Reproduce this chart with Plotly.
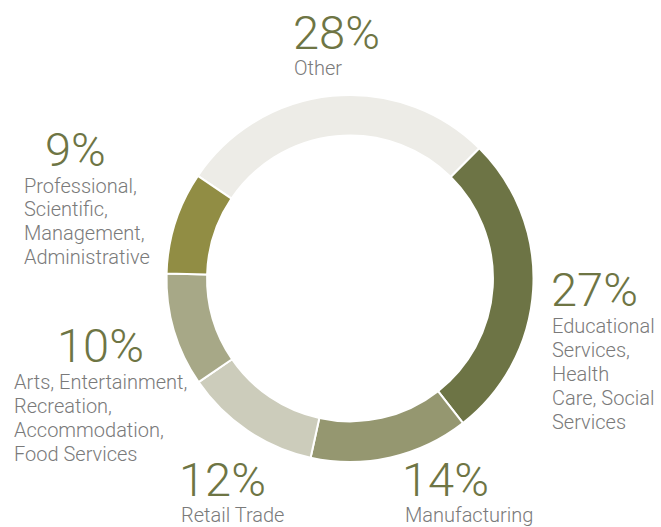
import plotly.graph_objects as go

# Share of employment by industry (percent)
industries = [
    "Other",
    "Educational Services, Health Care, Social Services",
    "Manufacturing",
    "Retail Trade",
    "Arts, Entertainment, Recreation, Accommodation, Food Services",
    "Professional, Scientific, Management, Administrative",
]
shares = [28, 27, 14, 12, 10, 9]
label_lines = [
    ["Other"],
    ["Educational", "Services,", "Health", "Care, Social", "Services"],
    ["Manufacturing"],
    ["Retail Trade"],
    ["Arts, Entertainment,", "Recreation,", "Accommodation,", "Food Services"],
    ["Professional,", "Scientific,", "Management,", "Administrative"],
]
slice_colors = ["#EDECE7", "#6D7445", "#959770", "#CCCCBB", "#A7A887", "#918D44"]

W, H = 661, 527

# Label block anchors in pixels: left edge of the percent figure, its centre,
# left edge of the caption, centre of the first caption line, line spacing
anchors = [
    (291, 32, 292, 68, 24),
    (549, 289, 550, 326, 24),
    (400, 479, 403, 515, 24),
    (177, 479, 179, 515, 24),
    (55, 345, 12, 382, 24),
    (43, 149, 22, 186, 23.5),
]

PCT_COLOR = "#6E7544"
TXT_COLOR = "#7A7A7A"
FONT = "Roboto"

fig = go.Figure(
    go.Pie(
        labels=industries,
        values=shares,
        sort=False,
        direction="clockwise",
        rotation=-56,
        hole=0.779,
        marker=dict(colors=slice_colors, line=dict(color="white", width=2)),
        textinfo="none",
        hoverinfo="label+percent",
        domain=dict(x=[166.5 / W, 533.5 / W], y=[1 - 462 / H, 1 - 95 / H]),
    )
)


def px(x, y):
    return x / W, 1 - y / H


annotations = []
for value, lines, (pct_x, pct_y, left, line_y, step) in zip(shares, label_lines, anchors):
    ax, ay = px(pct_x, pct_y)
    annotations.append(dict(
        x=ax, y=ay, xref="paper", yref="paper", xanchor="left", yanchor="middle",
        text=f"{value}%", showarrow=False, height=40, valign="middle",
        font=dict(family=FONT, size=47, color=PCT_COLOR, weight=300),
    ))
    for i, line in enumerate(lines):
        lx, ly = px(left, line_y + i * step)
        annotations.append(dict(
            x=lx, y=ly, xref="paper", yref="paper", xanchor="left", yanchor="middle",
            text=line, showarrow=False,
            font=dict(family=FONT, size=20, color=TXT_COLOR, weight=300),
        ))

fig.update_layout(
    width=W,
    height=H,
    margin=dict(l=0, r=0, t=0, b=0),
    paper_bgcolor="white",
    plot_bgcolor="white",
    showlegend=False,
    annotations=annotations,
)

fig.write_html("out.html")
